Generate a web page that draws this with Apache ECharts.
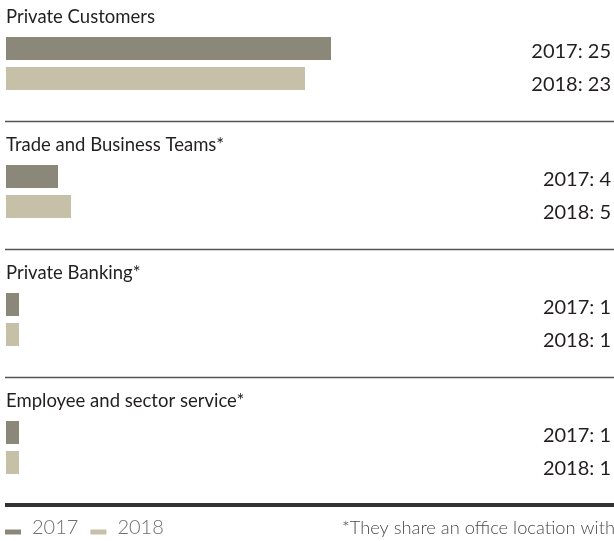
<!DOCTYPE html>
<html>
<head>
<meta charset="utf-8">
<script src="https://cdn.jsdelivr.net/npm/echarts@6/dist/echarts.min.js"></script>
<style>
  html, body { margin: 0; padding: 0; background: #ffffff; }
  #chart { width: 614px; height: 541px; }
</style>
</head>
<body>
<div id="chart"></div>
<script>
// Office counts per business unit, 2017 vs 2018
const groups = ['Private Customers', 'Trade and Business Teams*', 'Private Banking*', 'Employee and sector service*'];
const years = ['2017', '2018'];
const values2017 = [25, 4, 1, 1];
const values2018 = [23, 5, 1, 1];
const footnote = '*They share an office location with';

const colors = ['#8b887a', '#c7c0a9'];
const FONT = 'Lato, "Open Sans", sans-serif';
const TEXT = '#231f20';
const UNIT_PX = 13;          // horizontal pixels per office
const SECTION = 128;         // vertical pitch of one group block
const LEFT = 6, RIGHT = 3, W = 614;
const plotWidth = W - LEFT - RIGHT;

const grids = [], xAxes = [], yAxes = [], series = [], titles = [], graphics = [];

groups.forEach((name, i) => {
  const top = 33.5 + i * SECTION;
  grids.push({ left: LEFT, right: RIGHT, top: top, height: 60 });
  xAxes.push({ type: 'value', gridIndex: i, min: 0, max: plotWidth / UNIT_PX, show: false });
  yAxes.push({
    type: 'category', gridIndex: i, data: years, inverse: true, position: 'right',
    axisLine: { show: false }, axisTick: { show: false }, splitLine: { show: false },
    axisLabel: {
      inside: true, margin: 0,
      formatter: (v, idx) => idx === 0 ? `{a|${v}: ${values2017[i]}}` : `{b|${v}: ${values2018[i]}}`,
      rich: {
        a: { fontFamily: FONT, fontSize: 20, color: TEXT, padding: [6, 0, 0, 0] },
        b: { fontFamily: FONT, fontSize: 20, color: TEXT, padding: [12, 0, 0, 0] }
      }
    }
  });
  series.push({
    name: years[0], type: 'bar', xAxisIndex: i, yAxisIndex: i,
    data: [values2017[i], null], barWidth: 23, barGap: '-100%',
    itemStyle: { color: colors[0] }, silent: true
  });
  series.push({
    name: years[1], type: 'bar', xAxisIndex: i, yAxisIndex: i,
    data: [null, values2018[i]], barWidth: 23, barGap: '-100%',
    itemStyle: { color: colors[1] }, silent: true
  });
  titles.push({
    text: name, left: 6, top: 8 + i * SECTION, padding: 0,
    textStyle: { fontFamily: FONT, fontSize: 18.5, fontWeight: 'normal', color: TEXT }
  });
  if (i > 0) {
    const y = 121.5 + (i - 1) * SECTION;
    graphics.push({ type: 'line', shape: { x1: 5, y1: y, x2: 614, y2: y }, style: { stroke: '#555555', lineWidth: 1.5 } });
  }
});

// closing rule under the last group
graphics.push({ type: 'line', shape: { x1: 5, y1: 505, x2: 614, y2: 505 }, style: { stroke: '#333333', lineWidth: 4 } });
graphics.push({
  type: 'text', left: 342, top: 519,
  style: { text: footnote, fontFamily: FONT, fontSize: 18.3, fontWeight: 300, fill: '#4a4a4a' }
});

const chart = echarts.init(document.getElementById('chart'), null, { renderer: 'canvas' });
chart.setOption({
  animation: false,
  backgroundColor: '#ffffff',
  title: titles,
  grid: grids,
  xAxis: xAxes,
  yAxis: yAxes,
  series: series,
  legend: {
    data: years, left: 5, top: 518, padding: 0, itemGap: 12,
    itemWidth: 16, itemHeight: 13,
    icon: 'path://M0,0h16v0.01h-16z M0,8h16v5h-16z',
    selectedMode: false,
    textStyle: { fontFamily: FONT, fontSize: 20, fontWeight: 300, color: '#6f6f6f', padding: [0, 0, 0, 6] }
  },
  graphic: graphics
});
</script>
</body>
</html>
